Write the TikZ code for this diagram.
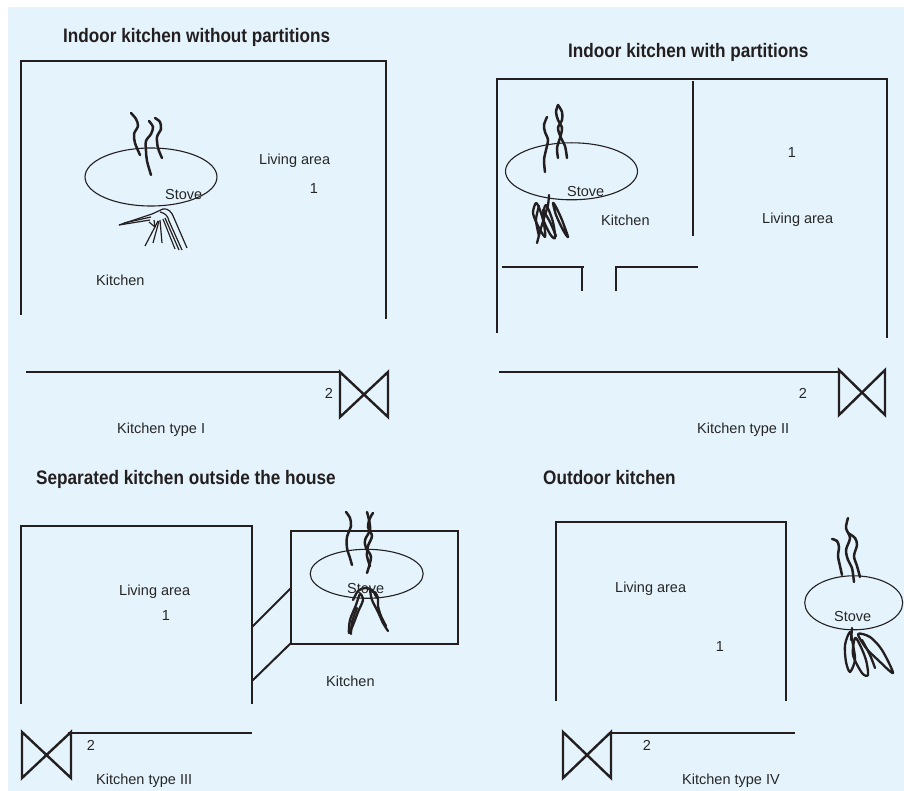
\documentclass[tikz,border=0pt]{standalone}
\usepackage{fontspec}
\setmainfont{Liberation Sans}
\newfontfamily\headfont[FakeStretch=0.88]{Liberation Sans}
\usetikzlibrary{shapes.geometric}

\definecolor{ink}{HTML}{231F20}
\definecolor{labelgray}{HTML}{262626}
\definecolor{panelblue}{RGB}{229,244,252}

\tikzset{
  wall/.style={draw=ink, line width=1.3pt},
  heavywall/.style={draw=ink, line width=2.8pt},
  link/.style={draw=ink, line width=2pt},
  valve/.style={draw=ink, line width=2.4pt, line join=miter},
  stove/.style={ellipse, draw=ink, line width=1.1pt, inner sep=0pt},
  smoke/.style={draw=ink, line width=2.5pt, line cap=round},
  flame/.style={draw=ink, line width=2.3pt, line cap=round, line join=round},
  twig/.style={draw=ink, line width=1.2pt, line join=round},
  heading/.style={anchor=base west, inner sep=0pt, text=ink,
    font=\headfont\bfseries\fontsize{19.5}{22}\selectfont},
  label/.style={anchor=base west, inner sep=0pt, text=labelgray,
    font=\fontsize{14.5}{16}\selectfont},
  numlabel/.style={anchor=base, inner sep=0pt, text=labelgray,
    font=\fontsize{14.5}{16}\selectfont}
}

\begin{document}
\begin{tikzpicture}[x=1pt, y=-1pt]
\useasboundingbox (0,0) rectangle (904,791);
\fill[white] (0,0) rectangle (904,791);
\fill[panelblue] (8,7) rectangle (904,791);

% ---------------- Kitchen type I ----------------
\node[heading] (titleA) at (63,43) {Indoor kitchen without partitions};
\draw[wall] (21,315) -- (21,61) -- (386,61) -- (386,319);
\draw[wall] (26,372) -- (340,372);
\draw[valve] (340,372) -- (388,417) -- (388,372) -- (340,417) -- cycle;
\node[stove, minimum width=132pt, minimum height=58pt] (stoveA) at (151,177) {};
\draw[smoke] plot[smooth] coordinates {(131,113) (136,119) (138,126) (134,134) (135,143) (140,155)};
\draw[smoke] plot[smooth] coordinates {(149,121) (153,127) (151,134) (146,141) (146,151) (147,161) (151,175)};
\draw[smoke] plot[smooth] coordinates {(155,118) (160,122) (161,129) (157,137) (158,148) (162,158)};
\draw[twig] (119,225) -- (152,214) -- (163,209) .. controls (168,208) and (172,212) .. (174,218) -- (187,248);
\draw[twig] (119,225) -- (150,220);
\draw[twig] (124,223) -- (151,217);
\draw[twig] (160,212) .. controls (165,213) and (168,216) .. (169,221) -- (182,250);
\draw[twig] (158,221) -- (145,246);
\draw[twig] (159,221) -- (153,243);
\draw[twig] (160,220) -- (162,243);
\draw[twig] (163,219) -- (175,249);
\draw[twig] (165,218) -- (179,250);
\draw[twig] (149,222) -- (155,227) -- (154,220);
\node[label] (stoveLabelA) at (165,200) {Stove};
\node[label] (livingA) at (259,165) {Living area};
\node[numlabel] (oneA) at (314,194) {1};
\node[label] (kitchenA) at (96,286) {Kitchen};
\node[numlabel] (twoA) at (329,398) {2};
\node[label] (typeA) at (117,433) {Kitchen type I};

% ---------------- Kitchen type II ----------------
\node[heading] (titleB) at (568,58) {Indoor kitchen with partitions};
\draw[wall] (497,333) -- (497,79) -- (887,79) -- (887,338);
\draw[heavywall] (693,81) -- (693,236);
\draw[heavywall] (502,267) -- (584,267);
\draw[heavywall] (582,267) -- (582,291);
\draw[heavywall] (615,267) -- (698,267);
\draw[heavywall] (616,267) -- (616,291);
\draw[wall] (499,372) -- (839,372);
\draw[valve] (839,370) -- (885,415) -- (885,370) -- (839,415) -- cycle;
\node[stove, minimum width=132pt, minimum height=57pt] (stoveB) at (571.5,171.3) {};
\draw[smoke] plot[smooth] coordinates {(547,117) (544,125) (545,132) (548,140) (546,150) (544,160) (545,172)};
\draw[smoke] plot[smooth] coordinates {(558,105) (556,112) (558,120) (562,128) (560,138) (557,148) (558,158)};
\draw[smoke] plot[smooth] coordinates {(558,105) (562,112) (562,120) (558,128) (561,138) (565,146) (567,158)};
\draw[flame] plot[smooth] coordinates {(549,195) (548,205) (545,215) (541,228) (537,243)};
\draw[flame] plot[smooth cycle] coordinates {(536,203) (533,213) (538,226) (545,237) (544,224) (540,210)};
\draw[flame] plot[smooth cycle] coordinates {(546,205) (543,218) (550,234) (555,238) (553,222)};
\draw[flame] plot[smooth cycle] coordinates {(553,203) (556,215) (563,230) (568,237) (562,220) (556,207)};
\draw[flame] plot[smooth] coordinates {(543,210) (550,222) (556,236)};
\draw[flame] plot[smooth] coordinates {(539,206) (536,220) (539,236)};
\node[label] (stoveLabelB) at (567,197) {Stove};
\node[label] (kitchenB) at (601,226) {Kitchen};
\node[numlabel] (oneB) at (792,158) {1};
\node[label] (livingB) at (762,224) {Living area};
\node[numlabel] (twoB) at (803,398) {2};
\node[label] (typeB) at (697,433) {Kitchen type II};

% ---------------- Kitchen type III ----------------
\node[heading] (titleC) at (36,484) {Separated kitchen outside the house};
\draw[wall] (21,704) -- (21,526) -- (252,526) -- (252,704);
\draw[heavywall] (291,531) rectangle (458,644);
\draw[link] (252,627) -- (291,588);
\draw[link] (252,681) -- (291,643);
\draw[wall] (68,733) -- (252,733);
\draw[valve] (22,732) -- (71,778) -- (71,732) -- (22,778) -- cycle;
\node[stove, minimum width=113pt, minimum height=49pt] (stoveC) at (366.7,573.8) {};
\draw[smoke] plot[smooth] coordinates {(346,512) (350,518) (351,526) (347,537) (347,548) (350,558) (352,565)};
\draw[smoke] plot[smooth] coordinates {(367,512) (369,520) (370,530) (365,540) (366,548) (371,557) (367,573)};
\draw[smoke] plot[smooth] coordinates {(373,513) (370,518) (368,527) (372,536) (368,546) (367,556) (370,566)};
\draw[flame] plot[smooth] coordinates {(353,600) (358,591) (365,588) (372,590) (377,598)};
\draw[flame] plot[smooth cycle] coordinates {(360,594) (356,605) (350,620) (349,633) (353,625) (358,612) (363,600)};
\draw[flame] plot[smooth] coordinates {(357,608) (352,622) (351,634)};
\draw[flame] plot[smooth] coordinates {(370,590) (372,600) (378,612) (383,623) (388,631)};
\draw[flame] plot[smooth] coordinates {(375,592) (378,598) (378,606) (381,616) (386,626)};
\node[label] (stoveLabelC) at (347,593) {Stove};
\node[label] (livingC) at (119,595) {Living area};
\node[numlabel] (oneC) at (166,620) {1};
\node[label] (kitchenC) at (326,686) {Kitchen};
\node[numlabel] (twoC) at (91,750) {2};
\node[label] (typeC) at (96,784) {Kitchen type III};

% ---------------- Kitchen type IV ----------------
\node[heading] (titleD) at (543,484) {Outdoor kitchen};
\draw[wall] (556,701) -- (556,522) -- (786,522) -- (786,701);
\draw[wall] (611,733) -- (795,733);
\draw[valve] (563,732) -- (611,778) -- (611,732) -- (563,778) -- cycle;
\node[stove, minimum width=98pt, minimum height=54pt] (stoveD) at (853.7,602.8) {};
\draw[smoke] plot[smooth] coordinates {(832,539) (837,541) (839,547) (838,556) (840,566) (842,575)};
\draw[smoke] plot[smooth] coordinates {(848,518) (846,528) (850,538) (846,550) (848,560) (852,568) (854,582)};
\draw[smoke] plot[smooth] coordinates {(848,533) (855,538) (857,545) (854,556) (857,566) (860,577)};
\draw[flame] (852,628) -- (851,640);
\draw[flame] plot[smooth cycle] coordinates {(850,632) (845,645) (846,662) (850,672) (855,660) (853,645)};
\draw[flame] plot[smooth cycle] coordinates {(855,638) (853,655) (862,673) (868,675) (866,660) (860,645)};
\draw[flame] plot[smooth cycle] coordinates {(858,634) (870,637) (882,650) (893,673) (878,660) (866,648)};
\draw[flame] plot[smooth] coordinates {(862,640) (870,655) (875,668)};
\node[label] (stoveLabelD) at (834,621) {Stove};
\node[label] (livingD) at (615,592) {Living area};
\node[numlabel] (oneD) at (720,651) {1};
\node[numlabel] (twoD) at (647,750) {2};
\node[label] (typeD) at (682,784) {Kitchen type IV};
\end{tikzpicture}
\end{document}
